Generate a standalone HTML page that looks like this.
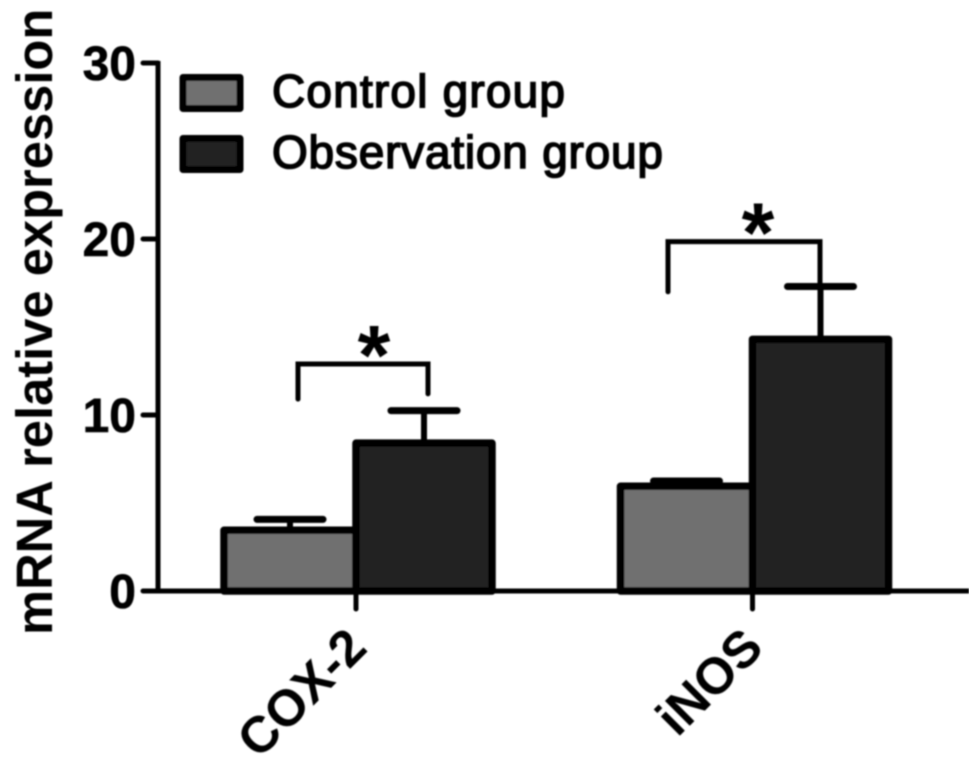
<!DOCTYPE html>
<html>
<head>
<meta charset="utf-8">
<style>
html,body{margin:0;padding:0;background:#fff;}
svg{display:block;}
text{font-family:"Liberation Sans",Arial,sans-serif;fill:#000;}
</style>
</head>
<body>
<svg id="chart" xmlns="http://www.w3.org/2000/svg" width="969" height="771" viewBox="0 0 969 771">
<defs><filter id="soft" x="-5%" y="-5%" width="110%" height="110%"><feGaussianBlur stdDeviation="0.7"/></filter></defs>
<g id="root" filter="url(#soft)"></g>
</svg>
<script>
var categories = ['COX-2', 'iNOS'];
var seriesNames = ['Control group', 'Observation group'];
var controlValues = [3.45, 5.95];
var observationValues = [8.4, 14.3];
var controlErrors = [4.07, 6.25];
var observationErrors = [10.25, 17.3];
var yTicks = [0, 10, 20, 30];
var sigLeftTops = [10.9, 17];
var sigRightTops = [11.2, 17.3];
var sigLevels = [12.9, 19.85];

var NS = 'http://www.w3.org/2000/svg';
var root = document.getElementById('root');
var X0 = 158, Y0 = 591, PER = 17.6;
function yScale(v){ return Y0 - v * PER; }
var catCentres = [356, 752.5];
var BW = 132;
function xCat(i){ return catCentres[i]; }
function make(tag, attrs, parent){
  var el = document.createElementNS(NS, tag);
  for (var k in attrs) el.setAttribute(k, attrs[k]);
  (parent || root).appendChild(el);
  return el;
}
function line(x1, y1, x2, y2, w, cap){
  return make('line', {x1:x1, y1:y1, x2:x2, y2:y2, stroke:'#000', 'stroke-width':w, 'stroke-linecap':cap || 'butt'});
}

// y axis
var el = line(X0, 61, X0, Y0 + 2, 5);


yTicks.forEach(function(t){
  var tk = line(143, yScale(t), X0, yScale(t), 5, 'round');
  
  
  var lb = make('text', {x:136, y:yScale(t) + 17, 'text-anchor':'end', 'font-size':48, 'font-weight':'bold', stroke:'#000', 'stroke-width':0.6});
  lb.textContent = String(t);
  
  
});

// x axis
el = line(143, Y0, 969, Y0, 5);



// error bars and bars
function drawBar(i, val, err, side, fill, name){
  var cx = xCat(i);
  var left = side === 0 ? cx - BW + 0 : cx;
  var mid = left + BW / 2 + (side === 0 ? 0 : 2);
  var top = yScale(val);
  var stem = line(mid, yScale(err), mid, top, 6);
  
  
  var capLine = line(mid - 33, yScale(err), mid + 33, yScale(err), 7, 'round');
  
  
  var w = side === 0 ? BW : BW + 4;
  var r = make('rect', {x:left, y:top, width:w, height:Y0 - top, fill:fill, stroke:'#000', 'stroke-width':7.5, 'stroke-linejoin':'round'});
  
  
}
categories.forEach(function(c, i){
  drawBar(i, controlValues[i], controlErrors[i], 0, '#6f6f6f', 'bar-control-' + c.toLowerCase());
  drawBar(i, observationValues[i], observationErrors[i], 1, '#242424', 'bar-observation-' + c.toLowerCase());
});

// x ticks + labels
categories.forEach(function(c, i){
  var cx = xCat(i);
  var tk = line(cx, Y0, cx, 609, 5, 'round');
  
  
  var lx = cx + 13, ly = 650;
  var lb = make('text', {x:lx, y:ly, 'text-anchor':'end', 'font-size':51, 'font-weight':'bold', transform:'rotate(-45 ' + lx + ' ' + ly + ')'});
  lb.textContent = c;
  
  
});

// significance brackets
var bracketSpans = [[298, 428], [668, 820]];
var starPos = [374, 758];
sigLevels.forEach(function(lv, i){
  var s = bracketSpans[i];
  var yTop = yScale(lv);
  var p = make('path', {d:'M' + s[0] + ' ' + yScale(sigLeftTops[i]) + 'L' + s[0] + ' ' + yTop + 'L' + s[1] + ' ' + yTop + 'L' + s[1] + ' ' + yScale(sigRightTops[i]), fill:'none', stroke:'#000', 'stroke-width':5, 'stroke-linecap':'round'});
  
  
  var st = make('text', {x:starPos[i], y:yTop + 20, 'text-anchor':'middle', 'font-size':84, 'font-weight':'bold'});
  st.textContent = '*';
  
  
});

// legend
var legendFills = ['#6f6f6f', '#242424'];
var legendY = [93, 154];
var legendWidths = [293, 391];
seriesNames.forEach(function(n, i){
  var sw = make('rect', {x:183, y:legendY[i] - 15.5, width:57, height:31, fill:legendFills[i], stroke:'#000', 'stroke-width':7, 'stroke-linejoin':'round'});
  
  
  var tx = make('text', {x:272, y:legendY[i] + 14, 'font-size':46, stroke:'#000', 'stroke-width':1.6, textLength:legendWidths[i], lengthAdjust:'spacing'});
  tx.textContent = n;
  
  
});

// y axis title
var yt = make('text', {x:-635, y:52, 'font-size':50.7, 'font-weight':'bold', transform:'rotate(-90)'});
yt.textContent = 'mRNA relative expression';


</script>
</body>
</html>
